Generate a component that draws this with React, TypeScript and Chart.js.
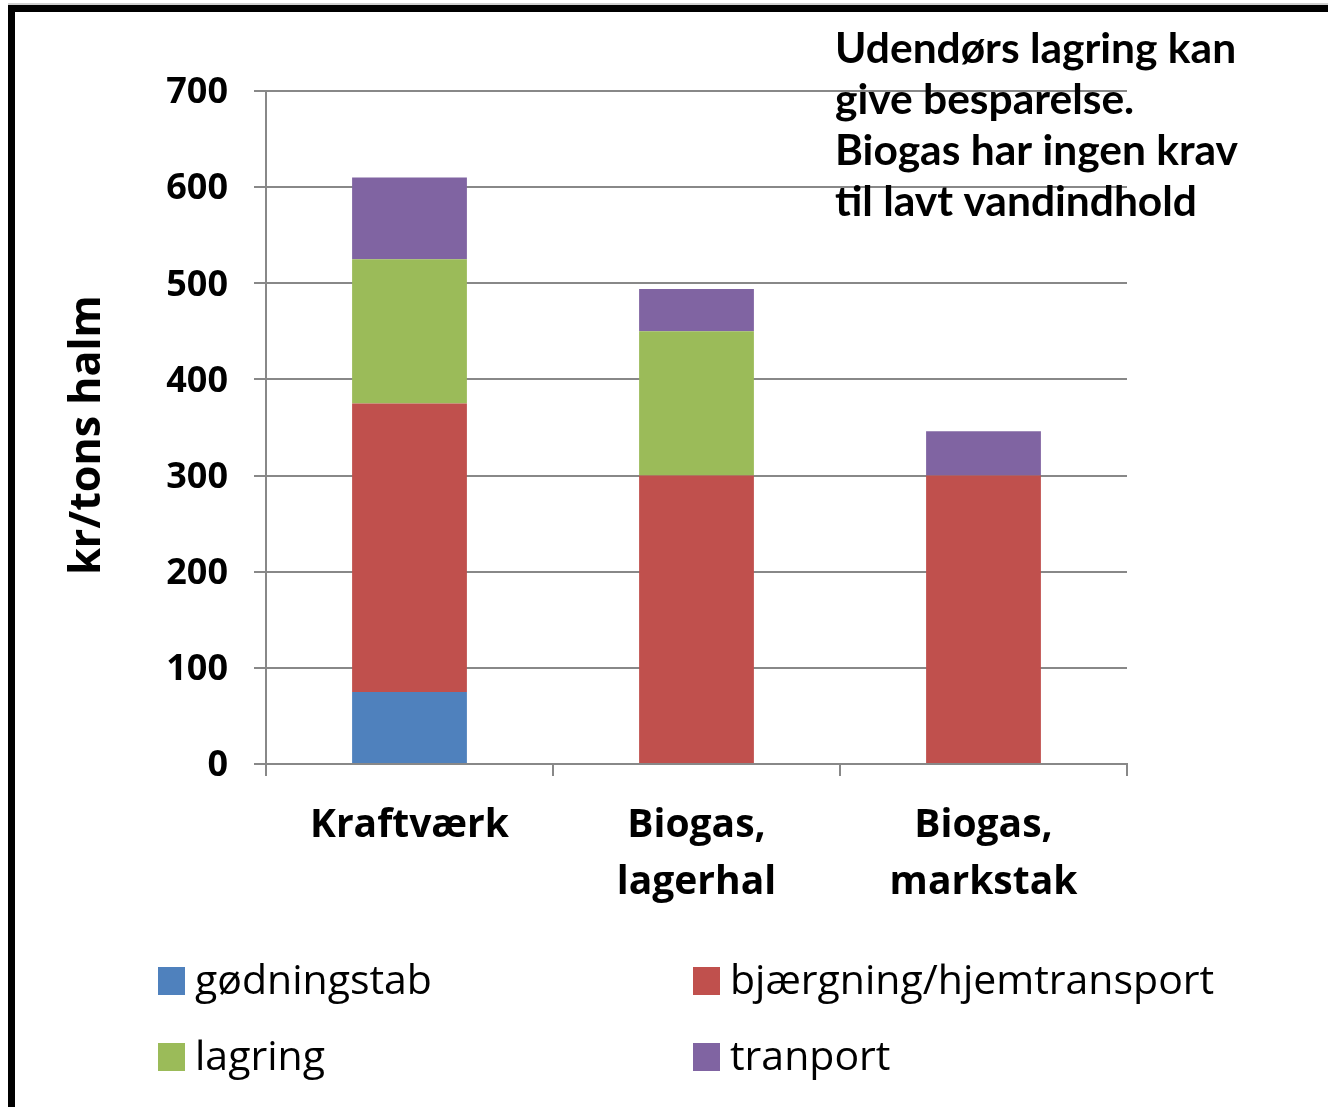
import React, { useEffect, useRef } from 'react';
import { Chart, registerables } from 'chart.js';

Chart.register(...registerables);

// ---- Data ----
const categories: string[][] = [['Kraftværk'], ['Biogas,', 'lagerhal'], ['Biogas,', 'markstak']];
const seriesNames = ['gødningstab', 'bjærgning/hjemtransport', 'lagring', 'tranport'];
const godningstab = [75, 0, 0];
const bjaergning = [300, 300, 300];
const lagring = [150, 150, 0];
const tranport = [85, 44, 46];
const seriesColors = ['#4F81BD', '#C0504D', '#9BBB59', '#8064A2'];
const yMin = 0;
const yMax = 700;
const yStep = 100;
const yTitle = 'kr/tons halm';
const noteLines = ['Udendørs lagring kan', 'give besparelse.', 'Biogas har ingen krav', 'til lavt vandindhold'];

const W = 1328;
const H = 1107;
const GRID = '#888888';

const framePlugin = {
  id: 'frame',
  beforeDraw(chart: any) {
    const ctx = chart.ctx;
    ctx.save();
    ctx.fillStyle = '#ffffff';
    ctx.fillRect(0, 0, W, H);
    ctx.fillStyle = '#d0d0d0';
    ctx.fillRect(8, 3, W - 8, 2);
    ctx.fillStyle = '#000000';
    ctx.fillRect(8, 5, W - 8, 7);
    ctx.fillRect(8, 5, 7, H - 5);
    ctx.restore();
  },
};

const yTitlePlugin = {
  id: 'yTitleCustom',
  afterDraw(chart: any) {
    const ctx = chart.ctx;
    ctx.save();
    ctx.translate(88, 435);
    ctx.rotate(-Math.PI / 2);
    ctx.fillStyle = '#000000';
    ctx.font = 'bold 43px "Open Sans"';
    ctx.textAlign = 'center';
    ctx.textBaseline = 'middle';
    ctx.fillText(yTitle, 0, 0);
    ctx.restore();
  },
};

const notePlugin = {
  id: 'note',
  afterDraw(chart: any) {
    const ctx = chart.ctx;
    ctx.save();
    ctx.fillStyle = '#000000';
    ctx.font = 'bold 42.5px Lato';
    ctx.textAlign = 'left';
    ctx.textBaseline = 'alphabetic';
    noteLines.forEach((line, i) => {
      ctx.fillText(line, 835, 63 + i * 51);
    });
    ctx.restore();
  },
};

const legendPlugin = {
  id: 'customLegend',
  afterDraw(chart: any) {
    const ctx = chart.ctx;
    const colX = [158, 693];
    const rowY = [981, 1057];
    ctx.save();
    ctx.font = '41px "Open Sans"';
    ctx.textBaseline = 'middle';
    ctx.textAlign = 'left';
    chart.data.datasets.forEach((ds: any, i: number) => {
      const x = colX[i % 2];
      const y = rowY[Math.floor(i / 2)];
      ctx.fillStyle = ds.backgroundColor;
      ctx.fillRect(x, y - 14, 27, 28);
      ctx.fillStyle = '#000000';
      ctx.fillText(ds.label, x + 37, y + 1);
    });
    ctx.restore();
  },
};

export default function App() {
  const ref = useRef<HTMLCanvasElement>(null);

  useEffect(() => {
    if (!ref.current) return;
    const seriesData = [godningstab, bjaergning, lagring, tranport];
    const chart = new Chart(ref.current, {
      type: 'bar',
      data: {
        labels: categories,
        datasets: seriesNames.map((name, i) => ({
          label: name,
          data: seriesData[i],
          backgroundColor: seriesColors[i],
          borderWidth: 0,
          categoryPercentage: 0.4,
          barPercentage: 1,
        })),
      },
      options: {
        responsive: false,
        animation: false,
        devicePixelRatio: 1,
        layout: { padding: { top: 91, right: W - 1127, bottom: 0, left: 0 } },
        plugins: {
          legend: { display: false },
          tooltip: { enabled: false },
          title: { display: false },
        },
        scales: {
          x: {
            stacked: true,
            offset: true,
            afterFit: (s: any) => { s.height = H - 764; },
            grid: {
              offset: true,
              drawOnChartArea: false,
              drawTicks: true,
              tickLength: 12,
              color: GRID,
              lineWidth: 2,
            },
            border: { display: true, color: GRID, width: 2 },
            ticks: {
              color: '#000000',
              font: { family: 'Open Sans', size: 39, weight: 'bold', lineHeight: 1.45 },
              padding: 22,
              maxRotation: 0,
              autoSkip: false,
            },
          },
          y: {
            stacked: true,
            min: yMin,
            max: yMax,
            afterFit: (s: any) => { s.width = 266; },
            grid: {
              color: GRID,
              lineWidth: 2,
              tickLength: 12,
              drawTicks: true,
            },
            border: { display: true, color: GRID, width: 2 },
            ticks: {
              stepSize: yStep,
              color: '#000000',
              font: { family: 'Open Sans', size: 36, weight: 'bold' },
              padding: 26,
              labelOffset: 2,
            },
          },
        },
      },
      plugins: [framePlugin, yTitlePlugin, notePlugin, legendPlugin],
    });
    return () => chart.destroy();
  }, []);

  return (
    <div style={{ position: 'fixed', left: 0, top: 0, width: W, height: H, background: '#fff' }}>
      <canvas ref={ref} width={W} height={H} style={{ display: 'block' }} />
    </div>
  );
}
